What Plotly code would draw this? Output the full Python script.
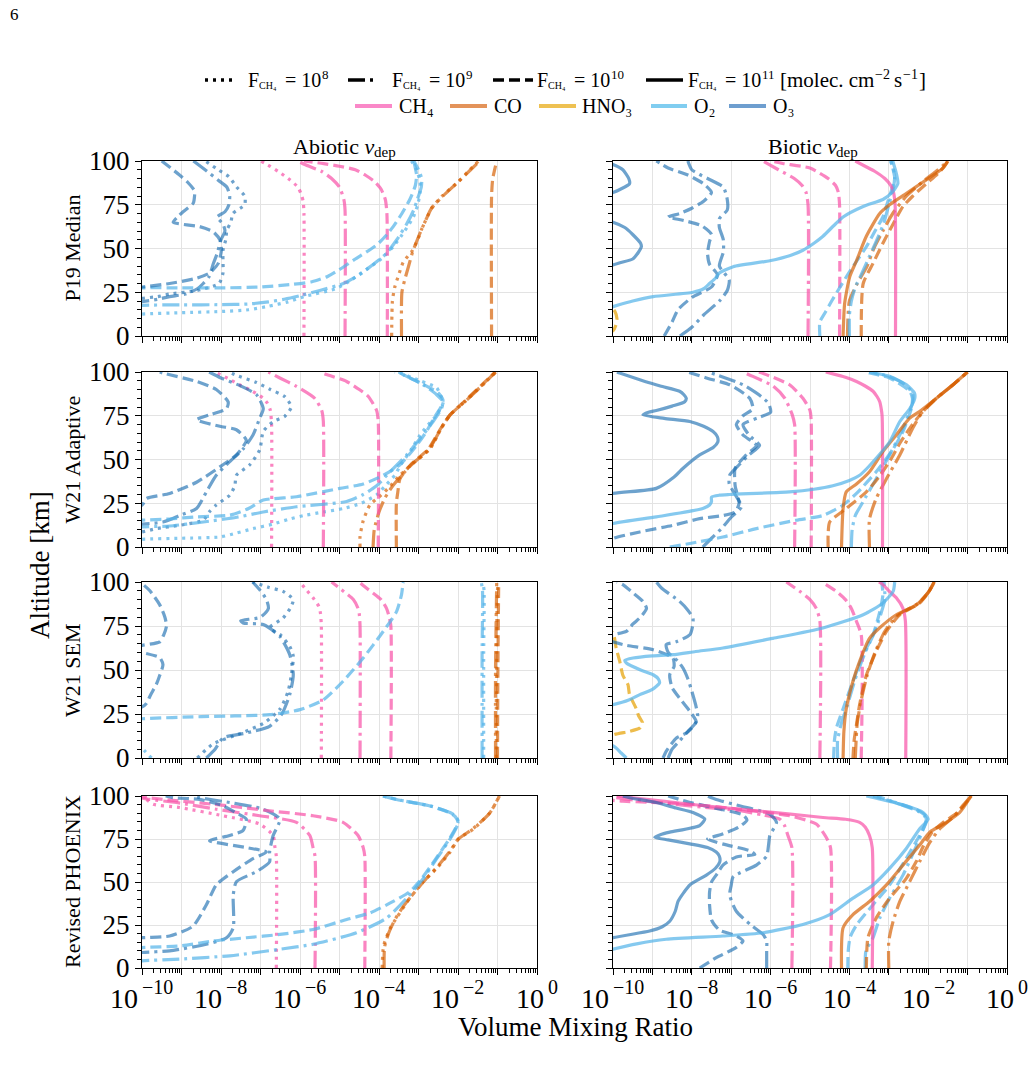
import numpy as np
import plotly.graph_objects as go

# ============ DATA: each curve = list of (altitude [km], log10 volume mixing ratio) ============
# ---------- P19 Median, abiotic ----------
P19A_CH4_8 = [(0,-5.90),(70,-5.90),(77,-5.92),(81,-5.97),(85,-6.05),(90,-6.3),(94,-6.55),(97.7,-6.81),(100,-7.0)]
P19A_CH4_9 = [(0,-4.86),(72,-4.86),(78,-4.89),(85,-5.0),(90,-5.2),(94,-5.45),(98,-5.88),(100,-6.05)]
P19A_CH4_10 = [(0,-3.79),(70,-3.80),(78,-3.84),(84,-3.95),(88,-4.1),(92,-4.35),(95,-4.6),(97,-5.0),(98.5,-5.4),(100,-5.9)]
P19A_CO_8 = [(0,-3.68),(20,-3.66),(28,-3.6),(35,-3.5),(42,-3.39),(49,-3.15),(55,-3.02),(61,-2.92),(67,-2.8),(73,-2.67),(80,-2.4),(88,-2.0),(95,-1.7),(100,-1.48)]
P19A_CO_9 = [(0,-3.43),(25,-3.42),(32,-3.35),(40,-3.25),(48,-3.15),(55,-3.03),(61,-2.92),(67,-2.8),(73,-2.67),(80,-2.38),(88,-2.0),(95,-1.68),(100,-1.45)]
P19A_CO_10 = [(0,-1.15),(80,-1.15),(90,-1.12),(100,-1.02)]
P19A_O2_8 = [(10,-11),(12.5,-10),(13.3,-9),(14,-8),(15,-7.3),(17,-6.8),(19.5,-6.3),(22.5,-5.9),(27,-5.1),(32,-4.7),(38,-4.32),(44,-3.95),(51,-3.64),(60,-3.35),(68,-3.13),(75,-3.02),(82,-2.96),(88,-2.96),(95,-3.05),(100,-3.18)]
P19A_O2_9 = [(15,-11),(17.5,-10),(17.8,-9),(17.9,-8),(18.3,-7.3),(19.5,-6.8),(21,-6.4),(23,-6.0),(26,-5.5),(30,-4.9),(35,-4.5),(40,-4.2),(47,-3.82),(55,-3.55),(64,-3.3),(72,-3.12),(78,-3.03),(85,-2.93),(90,-2.92),(95,-3.0),(100,-3.12)]
P19A_O2_10 = [(26,-11),(27.5,-10),(27.5,-9),(27.5,-8),(28,-7),(29.5,-6.2),(31,-5.7),(34,-5.3),(38,-5.0),(44,-4.6),(52,-4.06),(58,-3.8),(62.5,-3.64),(70,-3.42),(78,-3.22),(86,-3.08),(92,-3.05),(100,-3.12)]
P19A_O3_8 = [(18,-11),(21.5,-10),(22.5,-9.6),(24,-9.3),(26,-8.6),(30,-8.05),(36,-7.95),(43,-7.95),(49,-7.95),(55,-7.88),(60.5,-7.85),(65,-7.75),(70,-7.7),(75,-7.4),(80,-7.4),(85,-7.6),(91,-7.8),(95,-8.07),(100,-8.4)]
P19A_O3_9 = [(17,-11),(19.6,-10),(21,-9.6),(22.5,-9.3),(24,-8.9),(27,-8.6),(30,-8.45),(34,-8.3),(41,-8.2),(47,-8.1),(55,-8.0),(60,-7.9),(64,-7.95),(68,-8.1),(71,-7.9),(75,-7.8),(80,-7.78),(85,-7.85),(89,-8.07),(94,-8.35),(98,-8.58),(100,-8.7)]
P19A_O3_10 = [(26,-11),(28,-10),(30,-9.3),(33,-8.62),(36,-8.29),(41.5,-8.07),(49,-7.99),(55,-8.03),(59.6,-8.2),(62.5,-8.54),(65,-9.21),(68,-9.1),(71,-8.96),(76,-8.7),(80,-8.67),(83,-8.67),(88,-8.85),(92,-9.05),(100,-9.5)]

# ---------- P19 Median, biotic ----------
P19B_CH4_9 = [(0,-5.05),(75,-5.05),(82,-5.1),(86,-5.2),(90,-5.4),(95,-5.8),(100,-6.2)]
P19B_CH4_10 = [(0,-4.25),(75,-4.25),(82,-4.28),(86,-4.35),(90,-4.54),(93,-4.75),(96,-5.0),(98.6,-5.69),(100,-6.0)]
P19B_CH4_11 = [(0,-2.83),(75,-2.84),(82,-2.88),(86,-2.95),(90,-3.1),(94,-3.35),(97,-3.6),(100,-3.85)]
P19B_CO_9 = [(0,-4.05),(20,-4.0),(30,-3.8),(40,-3.55),(50,-3.38),(60,-3.15),(70,-2.9),(80,-2.55),(88,-2.15),(95,-1.75),(100,-1.5)]
P19B_CO_10 = [(0,-3.7),(30,-3.65),(41.5,-3.4),(53,-3.15),(64,-2.89),(74,-2.64),(80,-2.39),(87,-2.05),(94,-1.7),(100,-1.5)]
P19B_CO_11 = [(0,-4.16),(18.7,-4.12),(34,-3.99),(43,-3.82),(57,-3.57),(70,-3.23),(75,-2.98),(81.5,-2.55),(88,-2.13),(96,-1.62),(100,-1.5)]
P19B_HNO3_10 = [(0,-10.5),(3,-10.0),(6,-9.93),(10,-9.9),(14,-9.95),(18,-10.1),(22,-10.5)]
P19B_O2_9 = [(0,-4.0),(12,-4.0),(20,-3.95),(28,-3.85),(35,-3.7),(45,-3.5),(55,-3.3),(65,-3.12),(75,-3.0),(85,-2.88),(92,-2.85),(100,-2.95)]
P19B_O2_10 = [(0,-4.75),(8,-4.75),(14,-4.6),(20,-4.45),(26,-4.29),(33,-4.1),(40,-3.9),(51,-3.57),(60,-3.35),(68,-3.15),(75,-3.05),(82,-2.95),(90,-2.85),(96,-2.9),(100,-2.95)]
P19B_O2_11 = [(10,-11),(16.8,-10),(20,-9.5),(22.5,-8.98),(25,-7.97),(27,-7.7),(30,-7.55),(33,-7.4),(36,-7.3),(39.6,-6.95),(43,-6.02),(46,-5.5),(49,-5.18),(53,-4.9),(57,-4.67),(63,-4.4),(68,-4.16),(74,-3.65),(78,-3.15),(81.5,-2.94),(87,-2.77),(93,-2.81),(100,-2.9)]
P19B_O3_9 = [(0,-8.3),(5,-8.0),(12,-7.7),(20,-7.3),(26,-7.1),(32,-7.05),(40,-7.3),(48,-7.2),(55,-7.2),(62,-7.3),(67,-7.3),(72,-7.1),(78,-7.1),(85,-7.2),(90,-7.6),(95,-8.0),(100,-8.1)]
P19B_O3_10 = [(0,-8.7),(8,-8.5),(15,-8.35),(22,-8.0),(28,-7.5),(35,-7.35),(41,-7.55),(47,-7.6),(54,-7.55),(58,-7.5),(63,-7.75),(66,-8.2),(68,-8.6),(70,-8.3),(73,-8.0),(77,-7.7),(82,-7.5),(87,-7.7),(92,-8.1),(96,-8.6),(100,-8.9)]
P19B_O3_11 = [(0,-13),(35,-11),(40.6,-10),(42,-9.8),(44,-9.5),(48,-9.35),(51,-9.28),(53,-9.3),(58,-9.5),(62,-9.7),(65,-10),(68,-10.6),(73,-11),(78,-10.6),(82,-10),(84,-9.8),(87,-9.58),(90,-9.6),(95,-9.75),(98,-10),(100,-10.3)]

# ---------- W21 Adaptive, abiotic ----------
WAA_CH4_8 = [(0,-6.72),(70,-6.72),(78,-6.75),(82,-6.82),(85,-6.93),(89,-7.2),(92.7,-7.53),(96,-7.8),(100,-8.15)]
WAA_CH4_9 = [(0,-5.41),(72,-5.41),(78,-5.45),(85,-5.63),(91.8,-6.09),(96.6,-6.51),(100,-6.8)]
WAA_CH4_10 = [(0,-4.02),(72,-4.02),(78,-4.06),(86,-4.27),(90,-4.5),(94.6,-4.82),(98.9,-5.37),(100,-5.5)]
WAA_CO_8 = [(0,-4.48),(6,-4.48),(15,-4.4),(24,-4.23),(29,-3.98),(33.5,-3.77),(41,-3.47),(47,-3.18),(56,-2.71),(68,-2.42),(75.5,-2.2),(84,-1.78),(93,-1.36),(98.5,-1.11),(100,-1.05)]
WAA_CO_9 = [(0,-4.15),(10,-4.12),(20,-4.0),(28,-3.85),(35,-3.65),(41,-3.42),(47,-3.18),(56,-2.73),(68,-2.42),(75.5,-2.2),(84,-1.78),(93,-1.36),(100,-1.05)]
WAA_CO_10 = [(0,-3.56),(25,-3.56),(32,-3.52),(39,-3.47),(47,-3.2),(56,-2.75),(68,-2.43),(75.5,-2.2),(84,-1.8),(93,-1.38),(100,-1.05)]
WAA_O2_8 = [(2,-11),(4.4,-10),(5,-9),(5.7,-8.03),(8,-7.6),(10.5,-7.19),(13,-6.7),(16,-6.26),(18,-5.9),(20,-5.41),(22,-4.9),(25,-4.45),(30,-4.05),(36,-3.8),(41,-3.6),(47,-3.45),(55,-3.2),(64,-2.96),(70,-2.75),(75.5,-2.54),(80,-2.42),(83,-2.37),(87,-2.45),(91,-2.54),(95,-2.96),(99.4,-3.47),(100,-3.6)]
WAA_O2_9 = [(9,-11),(11.5,-10),(12,-9.3),(14.3,-8.45),(17,-7.6),(20,-6.93),(23,-6.09),(26,-4.82),(30,-4.4),(35,-4.06),(43,-3.72),(52.6,-3.3),(62,-2.96),(71.7,-2.63),(79,-2.42),(83,-2.38),(87,-2.54),(92.7,-2.88),(98.5,-3.39),(100,-3.5)]
WAA_O2_10 = [(13,-11),(15.3,-10),(16,-9.3),(17.2,-8.62),(18.2,-7.78),(22,-7.3),(26.8,-6.93),(28.7,-6.09),(33.5,-4.99),(36,-4.4),(41,-3.89),(47,-3.47),(58,-3.05),(66,-2.8),(74,-2.6),(80,-2.43),(84,-2.38),(88,-2.5),(93,-2.88),(98.5,-3.39),(100,-3.5)]
WAA_O3_8 = [(6,-11),(8.6,-10),(10.5,-9.64),(12.4,-9.05),(15.3,-8.45),(20,-8.3),(24,-8.12),(29.6,-7.78),(35,-7.65),(41,-7.61),(47,-7.27),(55.5,-7.02),(66,-6.93),(71.7,-6.68),(74.6,-6.39),(80,-6.22),(86,-6.39),(90,-6.75),(94,-7.1),(98,-7.6),(100,-7.8)]
WAA_O3_9 = [(12,-11),(14.3,-9.47),(18,-9.05),(22,-8.62),(31.5,-8.37),(41,-8.12),(48.8,-7.78),(56,-7.44),(64,-7.19),(73.6,-7.02),(79,-6.93),(87,-7.1),(92,-7.5),(96.6,-8.0),(100,-8.3)]
WAA_O3_10 = [(22,-11),(24,-10),(27.7,-9.89),(30.6,-9.3),(37,-8.62),(47,-7.95),(52.6,-7.61),(61,-7.36),(67,-7.61),(69,-8.03),(72.7,-8.62),(75.5,-8.29),(79,-7.86),(83,-7.82),(90,-8.12),(94.6,-8.62),(99.4,-9.47),(100,-9.55)]

# ---------- W21 Adaptive, biotic ----------
WAB_CH4_9 = [(0,-5.39),(70,-5.39),(75.5,-5.45),(85,-5.64),(92,-5.94),(97.5,-6.45),(100,-6.7)]
WAB_CH4_10 = [(0,-4.97),(72,-4.97),(78,-5.0),(85,-5.18),(92.7,-5.52),(98.5,-6.11),(100,-6.3)]
WAB_CH4_11 = [(0,-3.16),(75,-3.17),(80,-3.2),(83,-3.23),(86,-3.3),(89,-3.4),(92,-3.6),(94.6,-3.82),(97,-4.1),(100,-4.6)]
WAB_CO_9 = [(0,-3.49),(16,-3.49),(27.7,-3.32),(39,-3.06),(52.6,-2.72),(68,-2.39),(77,-2.15),(85,-1.79),(92.7,-1.37),(100,-1.0)]
WAB_CO_10 = [(0,-4.54),(7,-4.54),(14.3,-4.5),(22,-4.08),(31.5,-3.57),(40,-3.25),(50,-2.95),(60,-2.7),(70,-2.4),(77,-2.15),(85,-1.79),(92.7,-1.37),(100,-1.0)]
WAB_CO_11 = [(0,-4.2),(22,-4.16),(31.5,-4.08),(36,-3.82),(43,-3.49),(54.5,-3.15),(64,-2.81),(73.6,-2.47),(77.4,-2.22),(85,-1.79),(92.7,-1.37),(99.4,-1.03),(100,-1.0)]
WAB_HNO3_11 = [(0,-10.05),(3,-10.05),(6,-10.3),(9,-11)]
WAB_O2_9 = [(0,-3.95),(10,-3.93),(18,-3.85),(26,-3.65),(39,-3.32),(52.6,-2.98),(68,-2.64),(83,-2.39),(88,-2.4),(93,-2.6),(97,-2.95),(100,-3.4)]
WAB_O2_10 = [(0,-8.56),(2,-8.05),(5.7,-7.21),(10.5,-6.36),(15.3,-5.35),(18,-4.67),(24,-4.16),(30.6,-3.82),(43,-3.32),(56,-2.89),(66,-2.64),(79,-2.43),(85,-2.4),(89,-2.47),(96.6,-2.98),(99.4,-3.49),(100,-3.6)]
WAB_O2_11 = [(0,-12),(13.4,-10),(17.2,-8.9),(22,-7.72),(24,-7.55),(26,-7.5),(28.5,-7.5),(29.6,-7.3),(30,-7.04),(31.5,-5.52),(33,-4.9),(35,-4.42),(38,-4.0),(41,-3.74),(45,-3.55),(50.7,-3.32),(60,-2.98),(71.7,-2.72),(79,-2.47),(85,-2.34),(88,-2.35),(92.7,-2.55),(97.5,-2.98),(100,-3.5)]
WAB_O3_9 = [(0,-7.72),(5,-7.5),(10.5,-7.25),(17,-7.0),(23,-6.74),(30,-6.9),(36,-7.05),(41,-7.04),(47,-6.8),(52.6,-6.55),(58,-6.28),(64,-6.55),(70,-6.7),(74,-6.3),(77,-6.0),(82,-6.05),(86,-6.24),(92.7,-6.7),(98.5,-7.38),(100,-7.6)]
WAB_O3_10 = [(0,-10.3),(4.8,-10),(8.6,-9.32),(12.4,-8.48),(16.2,-7.8),(18,-7.2),(20,-6.9),(25,-6.8),(35,-6.9),(45,-6.9),(52.6,-6.62),(58,-6.36),(64,-6.7),(70,-6.87),(75,-6.7),(79,-6.45),(85,-6.53),(92.7,-7.04),(96.6,-7.63),(100,-8.1)]
WAB_O3_11 = [(0,-13),(25,-11),(30.6,-10),(33.5,-8.9),(40,-8.45),(45,-8.22),(52.6,-7.8),(57,-7.45),(60,-7.34),(63,-7.35),(66,-7.46),(69,-7.7),(71.7,-8.05),(73.5,-8.7),(75.5,-9.24),(77,-9.1),(78,-8.9),(80.5,-8.5),(83,-8.18),(85,-8.14),(87,-8.2),(89,-8.31),(92,-8.8),(95.6,-9.32),(99.4,-9.83),(100,-9.9)]

# ---------- W21 SEM, abiotic ----------
WSA_CH4_8 = [(0,-5.46),(75,-5.46),(82,-5.48),(86,-5.52),(91,-5.67),(96.6,-5.88),(100,-6.0)]
WSA_CH4_9 = [(0,-4.48),(75,-4.48),(82,-4.5),(85,-4.53),(90,-4.65),(95.6,-4.95),(100,-5.2)]
WSA_CH4_10 = [(0,-3.70),(75,-3.70),(80,-3.74),(85,-3.81),(90,-3.95),(96.6,-4.32),(100,-4.5)]
WSA_CO_8 = [(0,-1.03),(30,-1.03),(60,-1.02),(90,-1.01),(100,-0.99)]
WSA_CO_9 = [(0,-1.05),(50,-1.05),(100,-1.02)]
WSA_CO_10 = [(0,-1.0),(50,-0.99),(100,-0.97)]
WSA_O2_8 = [(0,-1.35),(60,-1.35),(95,-1.34),(100,-1.37)]
WSA_O2_8_LOW = [(0,-9.76),(2,-9.85),(4,-9.93),(5.7,-10),(8,-10.3)]
WSA_O2_9 = [(0,-1.39),(60,-1.39),(95,-1.38),(100,-1.41)]
WSA_O2_10 = [(20,-11),(22.3,-10),(23.5,-8.5),(24.6,-6.77),(27.5,-6.0),(33,-5.41),(43.6,-4.91),(56.8,-4.4),(72,-3.89),(83,-3.56),(92.8,-3.43),(99.4,-3.39),(100,-3.38)]
WSA_O3_8 = [(0,-8.6),(8,-8.2),(14,-7.5),(20,-6.9),(28,-6.5),(38,-6.3),(47,-6.22),(57.8,-6.17),(63.4,-6.26),(70,-6.5),(74,-6.77),(79.5,-6.43),(85,-6.25),(90,-6.17),(94.7,-6.43),(97,-6.8),(100,-7.2)]
WSA_O3_9 = [(0,-8.37),(5,-8.15),(11.4,-7.95),(14.2,-7.36),(18,-6.77),(24.6,-6.47),(36,-6.26),(47.3,-6.17),(58.7,-6.26),(69,-6.51),(75.8,-6.93),(76.7,-7.44),(78,-7.5),(80,-7.0),(85,-6.8),(90,-6.85),(95,-7.0),(100,-7.2)]
WSA_O3_10 = [(25,-10.5),(29,-10),(31,-9.89),(36,-9.78),(41.7,-9.64),(47,-9.55),(53,-9.47),(57,-9.55),(60,-10),(62,-10.3),(64,-10),(66,-9.55),(70,-9.45),(75,-9.38),(80,-9.42),(87,-9.55),(95,-9.8),(99,-10),(100,-10.1)]

# ---------- W21 SEM, biotic ----------
WSB_CH4_9 = [(0,-4.75),(78,-4.75),(85,-4.84),(90,-5.0),(94.7,-5.26),(100,-5.6)]
WSB_CH4_10 = [(0,-3.70),(70,-3.70),(77.6,-3.82),(85,-3.95),(90,-4.1),(94.7,-4.33),(98.5,-4.59),(100,-4.7)]
WSB_CH4_11 = [(0,-2.57),(78,-2.58),(85,-2.64),(91,-2.81),(95,-3.0),(98.5,-3.15),(100,-3.25)]
WSB_CO_9 = [(0,-3.85),(20,-3.8),(35,-3.68),(47,-3.55),(60,-3.35),(72,-3.1),(81,-2.78),(88,-2.25),(94,-2.0),(100,-1.85)]
WSB_CO_10 = [(0,-3.91),(10,-3.88),(19,-3.82),(30.3,-3.74),(47,-3.57),(60.6,-3.32),(72,-3.06),(81.4,-2.72),(88,-2.22),(94,-2.0),(100,-1.85)]
WSB_CO_11 = [(0,-4.16),(15,-4.14),(28,-4.08),(43.6,-3.91),(55,-3.74),(68,-3.49),(74,-3.23),(81.4,-2.81),(87,-2.3),(94,-2.0),(98.5,-1.88),(100,-1.85)]
WSB_HNO3_10 = [(0,-10.5),(10,-10.1),(13,-10),(15,-9.6),(17,-9.32),(20,-9.25),(24,-9.35),(28,-9.41),(36,-9.58),(41.7,-9.62),(47,-9.75),(55,-9.83),(62.5,-9.92),(71,-10),(75,-10.3)]
WSB_O2_9 = [(0,-4.3),(10,-4.3),(20,-4.2),(30,-4.05),(45,-3.85),(60,-3.6),(72,-3.35),(82,-3.2),(90,-3.1),(100,-3.12)]
WSB_O2_10 = [(0,-4.4),(10,-4.38),(17,-4.33),(28,-4.16),(43.6,-3.91),(58.7,-3.65),(70,-3.4),(83,-3.23),(92.8,-3.15),(100,-3.18)]
WSB_O2_11 = [(0,-9.66),(3,-9.8),(5.7,-9.92),(8,-10.1),(12,-10.6),(20,-11.5),(28,-10.5),(30.3,-10),(33,-9.6),(36,-9.32),(39,-9.0),(42.6,-8.82),(45,-8.85),(47.3,-8.98),(50,-9.3),(54,-9.66),(55.5,-9.7),(56.8,-9.49),(58,-9.0),(58.7,-8.48),(60.5,-7.9),(62.5,-7.21),(68,-5.94),(73.9,-4.67),(81.4,-3.65),(88,-3.15),(94.7,-2.89),(100,-2.85)]
WSB_O3_9 = [(0,-8.6),(5,-8.5),(10,-8.3),(15,-8.1),(20,-7.9),(24,-7.85),(30,-7.9),(38,-8.0),(45,-8.1),(51,-8.22),(55,-8.35),(60,-8.6),(64.4,-8.65),(66,-8.4),(70,-8.05),(75,-7.98),(79.5,-7.97),(84,-8.1),(89,-8.31),(96.6,-8.77),(100,-8.9)]
WSB_O3_10 = [(0,-8.73),(3.8,-8.65),(11.4,-8.39),(14.2,-8.14),(17,-8.0),(20.8,-7.89),(26.5,-8.05),(34,-8.31),(40,-8.5),(47.3,-8.56),(52,-8.45),(56.8,-8.48),(61.5,-8.98),(64,-9.66),(66,-10),(68,-10.2),(70,-10),(72,-9.66),(76,-9.5),(80,-9.3),(85,-9.15),(89,-9.24),(94,-9.5),(98.5,-9.75),(100,-9.9)]

# ---------- Revised PHOENIX, abiotic ----------
PHA_CH4_8 = [(0,-6.6),(65,-6.6),(71,-6.64),(77,-6.68),(83.7,-7.02),(88.5,-7.95),(93.3,-9.05),(95.2,-9.72),(98,-9.9),(100,-10.3)]
PHA_CH4_9 = [(0,-5.62),(65,-5.62),(70,-5.67),(77,-5.75),(84.7,-6.09),(88.5,-7.02),(92.3,-8.12),(96.2,-9.13),(98,-9.8),(100,-10.3)]
PHA_CH4_10 = [(0,-4.36),(65,-4.36),(70,-4.4),(77,-4.53),(84.7,-4.91),(88.5,-5.67),(91.4,-6.77),(95.2,-8.2),(98,-9.47),(100,-10.2)]
PHA_CO_8 = [(0,-3.92),(10,-3.9),(14,-3.87),(23,-3.72),(29,-3.56),(40.6,-3.22),(50.2,-2.88),(57.9,-2.54),(67.4,-2.2),(75,-1.99),(80.8,-1.61),(90.4,-1.19),(100,-0.95)]
PHA_CO_9 = [(0,-3.87),(12,-3.86),(20,-3.76),(28,-3.6),(36,-3.38),(44,-3.1),(52,-2.8),(60,-2.48),(68,-2.2),(75,-1.99),(81,-1.62),(90,-1.2),(100,-0.95)]
PHA_O2_9 = [(2,-11),(4.2,-10),(5.2,-9.05),(7.1,-7.78),(10.9,-6.51),(13.8,-5.67),(20.5,-4.57),(29,-3.81),(40.6,-3.3),(52,-2.88),(63.6,-2.54),(75,-2.2),(84.7,-1.99),(88,-2.05),(90.4,-2.2),(94.3,-2.71),(98,-3.56),(100,-3.9)]
PHA_O2_10 = [(10,-11),(11.9,-10),(12.8,-9.05),(15.7,-8.2),(17.6,-7.36),(19.5,-6.51),(22.4,-5.67),(28.2,-4.82),(32,-4.23),(38.7,-3.64),(44.4,-3.22),(52,-2.92),(63.6,-2.56),(75,-2.22),(84.7,-2.0),(88,-2.07),(90.4,-2.22),(94.3,-2.73),(98,-3.56),(100,-3.9)]
PHA_O3_9 = [(7,-11),(9,-10),(10,-9.3),(13.8,-8.37),(17.6,-7.86),(23.4,-7.69),(42.5,-7.69),(50.2,-7.61),(56,-7.1),(61.7,-6.77),(67.4,-6.77),(77,-6.68),(86.6,-6.51),(92.3,-6.93),(96.2,-7.78),(99,-8.54),(100,-8.7)]
PHA_O3_10 = [(15,-11),(17.6,-10),(18.6,-9.3),(24.3,-8.71),(36.8,-8.37),(48.3,-8.12),(56,-7.69),(63.6,-7.19),(67.4,-6.85),(70,-7.36),(74,-8.29),(77,-7.78),(80,-7.44),(86.6,-7.36),(90,-7.6),(94.3,-7.95),(98,-8.54),(99,-9.21),(100,-9.4)]

# ---------- Revised PHOENIX, biotic ----------
PHB_CH4_9 = [(0,-5.46),(70,-5.46),(77,-5.56),(83,-5.65),(86.6,-5.77),(89,-6.2),(91.4,-6.79),(94.3,-8.05),(98,-9.58),(100,-10.2)]
PHB_CH4_10 = [(0,-4.48),(70,-4.48),(76,-4.59),(83.7,-4.84),(88.5,-5.52),(92.3,-6.79),(95.2,-8.05),(97,-9.75),(98,-10.3)]
PHB_CH4_11 = [(0,-3.42),(70,-3.42),(77,-3.49),(82,-3.6),(84.7,-3.74),(86.5,-4.1),(87.5,-4.67),(89.5,-5.5),(91.4,-6.36),(95.2,-8.05),(99,-9.49),(100,-9.9)]
PHB_CO_9 = [(0,-3.0),(15.7,-3.0),(27.2,-2.89),(38.7,-2.72),(50.2,-2.47),(61.7,-2.22),(73,-1.96),(80.8,-1.71),(88,-1.35),(95,-1.1),(100,-0.91)]
PHB_CO_10 = [(0,-3.57),(17.6,-3.53),(29,-3.32),(40,-3.0),(52,-2.56),(62,-2.3),(71,-2.12),(79,-1.9),(85,-1.6),(90.4,-1.25),(100,-0.91)]
PHB_CO_11 = [(0,-4.2),(23.4,-4.16),(31,-3.91),(38.7,-3.49),(48.3,-3.06),(59.8,-2.64),(71.3,-2.22),(79,-1.96),(84.7,-1.54),(90.4,-1.2),(100,-0.91)]
PHB_O2_9 = [(0,-3.6),(10,-3.58),(17.6,-3.4),(29,-3.23),(40.6,-2.98),(54,-2.64),(71,-2.3),(82.8,-2.09),(87,-2.05),(91,-2.25),(95,-2.7),(100,-3.3)]
PHB_O2_10 = [(0,-4.04),(10,-4.03),(18,-3.98),(25,-3.82),(36.8,-3.4),(48.3,-2.98),(63.6,-2.56),(77,-2.22),(84.7,-2.05),(88,-2.05),(92,-2.3),(96,-2.8),(100,-3.4)]
PHB_O2_11 = [(5,-11),(10.9,-10),(14,-9.4),(16.7,-8.65),(18.6,-7.21),(20.5,-6.19),(25.3,-5.18),(31,-4.5),(40.6,-3.91),(48.3,-3.4),(57.9,-2.98),(69.3,-2.56),(80.8,-2.22),(86.6,-2.0),(90.4,-2.13),(94.3,-2.56),(100,-3.57)]
PHB_O3_9 = [(0,-6.1),(10,-6.1),(15.7,-6.1),(19.5,-6.19),(25,-6.5),(33,-6.87),(42.5,-7.04),(48,-7.0),(53,-6.95),(59.8,-6.36),(65,-6.1),(72,-6.05),(77,-6.02),(84.7,-5.85),(89.5,-6.02),(94.3,-6.79),(98,-7.38),(100,-7.6)]
PHB_O3_10 = [(0,-7.8),(6,-7.38),(12,-6.87),(15.7,-6.7),(19,-6.9),(22,-7.3),(28,-7.5),(36.8,-7.55),(44,-7.55),(50,-7.5),(55,-7.35),(59.8,-7.21),(64.6,-6.87),(66,-6.4),(68,-6.5),(72,-7.2),(75,-7.6),(78,-7.2),(82,-6.8),(86,-6.6),(89,-6.7),(92,-7.2),(96,-8.0),(100,-8.6)]
PHB_O3_11 = [(0,-11.5),(15,-10.3),(17.6,-10),(21.5,-9.07),(24,-8.75),(27.2,-8.56),(33,-8.42),(38.7,-8.35),(44,-8.2),(48.3,-8.05),(54,-7.63),(58,-7.4),(61.7,-7.29),(65,-7.3),(67.4,-7.38),(70,-7.6),(72.2,-8.05),(74.5,-8.6),(76,-8.94),(77.5,-8.8),(79,-8.56),(82.8,-7.8),(86.6,-7.67),(90.4,-7.97),(93,-8.4),(96.2,-8.9),(99,-9.58),(100,-9.75)]

ROW_LABELS = ["P19 Median", "W21 Adaptive", "W21 SEM", "Revised PHOENIX"]
COL_TITLES = ["Abiotic <i>v</i>", "Biotic <i>v</i>"]
SPECIES = ["CH4", "CO", "HNO3", "O2", "O3"]
SPECIES_LABELS = ["CH₄", "CO", "HNO₃", "O₂", "O₃"]
FLUX_EXP = [8, 9, 10, 11]
X_TICK_EXP = list(range(-10, 1))
X_LABEL_EXP = [k for k in X_TICK_EXP if k % 2 == 0]

# ============ STYLE ============
COLORS = {"CH4": "rgba(248,84,169,0.72)", "CO": "rgba(213,94,0,0.68)", "HNO3": "rgba(230,159,0,0.7)",
          "O2": "rgba(86,180,233,0.72)", "O3": "rgba(20,105,175,0.62)"}
LEG_COLORS = {"CH4": "#fa88c8", "CO": "#e3935a", "HNO3": "#eec152", "O2": "#80cdf0", "O3": "#6e9ecf"}
DASH = {8: "3px,5px", 9: "17px,5px,3px,5px", 10: "11px,5px", 11: "solid"}
FONT = "Liberation Serif"

# panel table built from the named lists: (row, col, [(species, flux exponent, curve)])
PANELS = [
    (1, 1, [("CH4", 8, P19A_CH4_8), ("CH4", 9, P19A_CH4_9), ("CH4", 10, P19A_CH4_10),
            ("CO", 8, P19A_CO_8), ("CO", 9, P19A_CO_9), ("CO", 10, P19A_CO_10),
            ("O2", 8, P19A_O2_8), ("O2", 9, P19A_O2_9), ("O2", 10, P19A_O2_10),
            ("O3", 8, P19A_O3_8), ("O3", 9, P19A_O3_9), ("O3", 10, P19A_O3_10)]),
    (1, 2, [("CH4", 9, P19B_CH4_9), ("CH4", 10, P19B_CH4_10), ("CH4", 11, P19B_CH4_11),
            ("CO", 9, P19B_CO_9), ("CO", 10, P19B_CO_10), ("CO", 11, P19B_CO_11),
            ("HNO3", 10, P19B_HNO3_10),
            ("O2", 9, P19B_O2_9), ("O2", 10, P19B_O2_10), ("O2", 11, P19B_O2_11),
            ("O3", 9, P19B_O3_9), ("O3", 10, P19B_O3_10), ("O3", 11, P19B_O3_11)]),
    (2, 1, [("CH4", 8, WAA_CH4_8), ("CH4", 9, WAA_CH4_9), ("CH4", 10, WAA_CH4_10),
            ("CO", 8, WAA_CO_8), ("CO", 9, WAA_CO_9), ("CO", 10, WAA_CO_10),
            ("O2", 8, WAA_O2_8), ("O2", 9, WAA_O2_9), ("O2", 10, WAA_O2_10),
            ("O3", 8, WAA_O3_8), ("O3", 9, WAA_O3_9), ("O3", 10, WAA_O3_10)]),
    (2, 2, [("CH4", 9, WAB_CH4_9), ("CH4", 10, WAB_CH4_10), ("CH4", 11, WAB_CH4_11),
            ("CO", 9, WAB_CO_9), ("CO", 10, WAB_CO_10), ("CO", 11, WAB_CO_11),
            ("HNO3", 11, WAB_HNO3_11),
            ("O2", 9, WAB_O2_9), ("O2", 10, WAB_O2_10), ("O2", 11, WAB_O2_11),
            ("O3", 9, WAB_O3_9), ("O3", 10, WAB_O3_10), ("O3", 11, WAB_O3_11)]),
    (3, 1, [("CH4", 8, WSA_CH4_8), ("CH4", 9, WSA_CH4_9), ("CH4", 10, WSA_CH4_10),
            ("CO", 8, WSA_CO_8), ("CO", 9, WSA_CO_9), ("CO", 10, WSA_CO_10),
            ("O2", 8, WSA_O2_8), ("O2", 8, WSA_O2_8_LOW), ("O2", 9, WSA_O2_9), ("O2", 10, WSA_O2_10),
            ("O3", 8, WSA_O3_8), ("O3", 9, WSA_O3_9), ("O3", 10, WSA_O3_10)]),
    (3, 2, [("CH4", 9, WSB_CH4_9), ("CH4", 10, WSB_CH4_10), ("CH4", 11, WSB_CH4_11),
            ("CO", 9, WSB_CO_9), ("CO", 10, WSB_CO_10), ("CO", 11, WSB_CO_11),
            ("HNO3", 10, WSB_HNO3_10),
            ("O2", 9, WSB_O2_9), ("O2", 10, WSB_O2_10), ("O2", 11, WSB_O2_11),
            ("O3", 9, WSB_O3_9), ("O3", 10, WSB_O3_10)]),
    (4, 1, [("CH4", 8, PHA_CH4_8), ("CH4", 9, PHA_CH4_9), ("CH4", 10, PHA_CH4_10),
            ("CO", 8, PHA_CO_8), ("CO", 9, PHA_CO_9),
            ("O2", 9, PHA_O2_9), ("O2", 10, PHA_O2_10),
            ("O3", 9, PHA_O3_9), ("O3", 10, PHA_O3_10)]),
    (4, 2, [("CH4", 9, PHB_CH4_9), ("CH4", 10, PHB_CH4_10), ("CH4", 11, PHB_CH4_11),
            ("CO", 9, PHB_CO_9), ("CO", 10, PHB_CO_10), ("CO", 11, PHB_CO_11),
            ("O2", 9, PHB_O2_9), ("O2", 10, PHB_O2_10), ("O2", 11, PHB_O2_11),
            ("O3", 9, PHB_O3_9), ("O3", 10, PHB_O3_10), ("O3", 11, PHB_O3_11)]),
]

W, H = 1034, 1085
COL_DOM = [(142 / W, 537 / W), (613 / W, 1007 / W)]
ROW_PX = [(161, 336), (372, 547), (582, 758), (796, 968)]

fig = go.Figure()
layout = {}
for (row, col, curves) in PANELS:
    idx = (row - 1) * 2 + col
    xa = "x" if idx == 1 else f"x{idx}"
    ya = "y" if idx == 1 else f"y{idx}"
    order = sorted(curves, key=lambda c: (c[1], SPECIES.index(c[0])))
    for sp, fexp, data in order:
        arr = np.array(data, dtype=float)
        fig.add_trace(go.Scatter(
            x=np.power(10.0, arr[:, 1]), y=arr[:, 0], mode="lines",
            line=dict(color=COLORS[sp], width=3.2, dash=DASH[fexp], shape="spline", smoothing=0.6),
            xaxis=xa, yaxis=ya, showlegend=False, hoverinfo="skip"))
    top, bot = ROW_PX[row - 1]
    xkey = "xaxis" if idx == 1 else f"xaxis{idx}"
    ykey = "yaxis" if idx == 1 else f"yaxis{idx}"
    minor_vals = [m * 10.0 ** k for k in range(-10, 0) for m in range(2, 10)]
    layout[xkey] = dict(
        domain=list(COL_DOM[col - 1]), anchor=ya, type="log", range=[-10, 0], automargin=False,
        tickmode="array", tickvals=[10.0 ** k for k in X_TICK_EXP], showticklabels=False,
        ticks="outside", ticklen=6, tickwidth=1, tickcolor="black",
        showline=True, linecolor="black", linewidth=1.2, mirror=True,
        showgrid=True, gridcolor="#e3e3e3", gridwidth=1, zeroline=False,
        minor=dict(tickmode="array", tickvals=minor_vals, ticks="outside", ticklen=3.5,
                   tickcolor="black", tickwidth=1, showgrid=False))
    layout[ykey] = dict(
        domain=[1 - bot / H, 1 - top / H], anchor=xa, range=[0, 100], automargin=False,
        tickmode="array", tickvals=[0, 25, 50, 75, 100], showticklabels=(col == 1),
        ticks="outside", ticklen=6, tickwidth=1, tickcolor="black",
        showline=True, linecolor="black", linewidth=1.2, mirror=True,
        showgrid=True, gridcolor="#e3e3e3", gridwidth=1, zeroline=False,
        tickfont=dict(family=FONT, size=27, color="black"),
        minor=dict(dtick=5, ticks="outside", ticklen=3.5, tickcolor="black", tickwidth=1, showgrid=False))

annotations = []
shapes = []
def px(x):
    return x / W
def py(y):
    return 1 - y / H
def txt(text, x, y, size, anchor="left", angle=0):
    annotations.append(dict(text=text, x=px(x), y=py(y), xref="paper", yref="paper", showarrow=False,
                            xanchor=anchor, yanchor="middle", textangle=angle,
                            font=dict(family=FONT, size=size, color="black")))

# bottom-row x tick labels "10" + raised exponent, positioned on the log axes
BASE_SIZE, EXP_SIZE = 28, 20
for xref in ("x7", "x8"):
    for k in X_LABEL_EXP:
        e = ("−" if k < 0 else "") + str(abs(k))
        we = sum(0.564 if ch == "−" else 0.5 for ch in e) * EXP_SIZE
        shift = (BASE_SIZE - we) / 2
        annotations.append(dict(text="10", xref=xref, x=k, yref="paper", y=py(998), showarrow=False,
                                xanchor="right", yanchor="middle", xshift=shift,
                                font=dict(family=FONT, size=BASE_SIZE, color="black")))
        annotations.append(dict(text=e, xref=xref, x=k, yref="paper", y=py(987), showarrow=False,
                                xanchor="left", yanchor="middle", xshift=shift,
                                font=dict(family=FONT, size=EXP_SIZE, color="black")))

txt("6", 8, 14, 17)
for t, xr in zip(COL_TITLES, [377, 839]):
    txt(t, xr, 146, 22, anchor="right")
    txt("dep", xr - 5, 152, 15)
for r, lab in enumerate(ROW_LABELS):
    top, bot = ROW_PX[r]
    txt(lab, 72, (top + bot) / 2, 22, anchor="center", angle=-90)
txt("Altitude [km]", 40, 565, 27, anchor="center", angle=-90)
txt("Volume Mixing Ratio", 575, 1027, 27, anchor="center")

# legend row 1: flux line styles
LEG1 = [(205, 232, 246, 8), (348, 378, 390, 9), (493, 533, 535, 10), (646, 683, 686, 11)]
for x0, x1, xt, fexp in LEG1:
    shapes.append(dict(type="line", xref="paper", yref="paper", x0=px(x0), x1=px(x1), y0=py(80), y1=py(80),
                       line=dict(color="black", width=3.5, dash=DASH[fexp])))
    txt("F", xt, 80, 20)
    txt("CH₄", xt + 11, 85, 10)
    txt("= 10", xt + 37, 80, 20)
    txt(str(fexp), xt + 74, 74, 13)
    if fexp == 11:
        x = xt + 92
        txt("[molec. cm", x, 80, 21)
        x += 95
        txt("−2", x, 74, 14)
        x += 15
        txt("s", x + 4, 80, 21)
        x += 13
        txt("−1", x, 74, 14)
        x += 15
        txt("]", x + 1, 80, 21)
# legend row 2: species colours
LEG2 = [(355, 392, 397), (450, 487, 492), (539, 576, 580), (651, 687, 692), (729, 766, 771)]
for (x0, x1, xt), sp, lab in zip(LEG2, SPECIES, SPECIES_LABELS):
    shapes.append(dict(type="line", xref="paper", yref="paper", x0=px(x0), x1=px(x1), y0=py(106), y1=py(106),
                       line=dict(color=LEG_COLORS[sp], width=4)))
    txt(lab, xt, 106, 20)

fig.update_layout(width=W, height=H, margin=dict(l=0, r=0, t=0, b=0, autoexpand=False), paper_bgcolor="white",
                  plot_bgcolor="white", showlegend=False, annotations=annotations, shapes=shapes,
                  autosize=False, font=dict(family=FONT, color="black"), **layout)
fig.write_html("out.html")
